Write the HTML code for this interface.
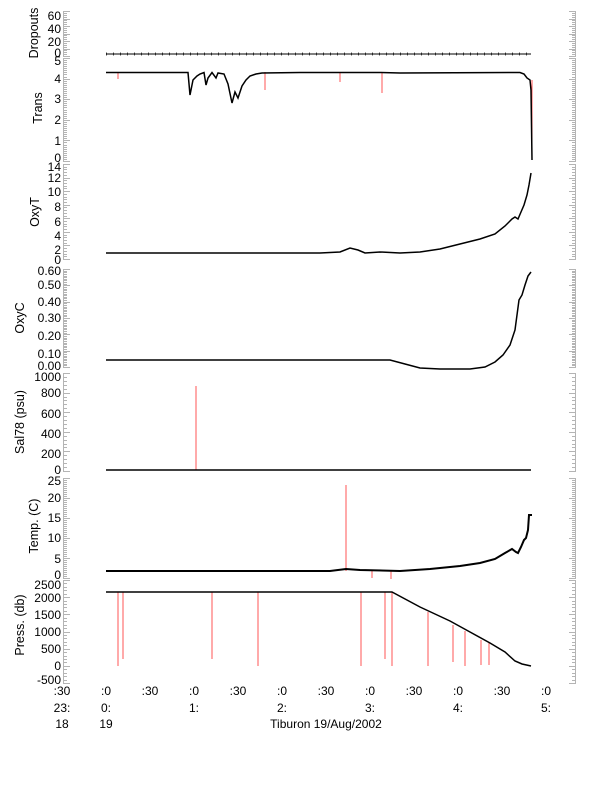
<!DOCTYPE html>
<html><head><meta charset="utf-8"><style>
body{margin:0;background:#fff;}
svg{display:block;font-family:"Liberation Sans",sans-serif;}
.l{font-size:12px;fill:#000;text-anchor:end;}
.y{font-size:12.5px;fill:#000;text-anchor:middle;}
.t{font-size:12px;fill:#000;text-anchor:middle;}
</style></head><body>
<svg id="s" width="612" height="785" viewBox="0 0 612 785">
<rect width="612" height="785" fill="#fff"/>
<g id="ax" stroke="#b4b4b4" stroke-width="1" fill="none"></g>
<g class="l">
<text x="61" y="20">60</text><text x="61" y="33">40</text><text x="61" y="46">20</text><text x="61" y="57">0</text>
<text x="61" y="65">5</text><text x="61" y="83">4</text><text x="61" y="103">3</text><text x="61" y="124">2</text><text x="61" y="145">1</text><text x="61" y="162">0</text>
<text x="61" y="171">14</text><text x="61" y="182">12</text><text x="61" y="196">10</text><text x="61" y="211">8</text><text x="61" y="226">6</text><text x="61" y="240">4</text><text x="61" y="254">2</text><text x="61" y="264">0</text>
<text x="61" y="275">0.60</text><text x="61" y="289">0.50</text><text x="61" y="306">0.40</text><text x="61" y="322">0.30</text><text x="61" y="340">0.20</text><text x="61" y="358">0.10</text><text x="61" y="370">0.00</text>
<text x="61" y="381">1000</text><text x="61" y="397">800</text><text x="61" y="418">600</text><text x="61" y="438">400</text><text x="61" y="458">200</text><text x="61" y="474">0</text>
<text x="61" y="485">25</text><text x="61" y="502">20</text><text x="61" y="522">15</text><text x="61" y="542">10</text><text x="61" y="563">5</text><text x="61" y="579">0</text>
<text x="61" y="589">2500</text><text x="61" y="602">2000</text><text x="61" y="619">1500</text><text x="61" y="636">1000</text><text x="61" y="653">500</text><text x="61" y="670">0</text><text x="61" y="684">-500</text>
</g>
<g class="y">
<text transform="translate(38,33) rotate(-90)">Dropouts</text>
<text transform="translate(42,108) rotate(-90)">Trans</text>
<text transform="translate(39,212) rotate(-90)">OxyT</text>
<text transform="translate(24,318) rotate(-90)">OxyC</text>
<text transform="translate(24,422) rotate(-90)">Sal78 (psu)</text>
<text transform="translate(38,526) rotate(-90)">Temp. (C)</text>
<text transform="translate(24,625) rotate(-90)">Press. (db)</text>
</g>
<g class="t">
<text x="62" y="695">:30</text><text x="106" y="695">:0</text><text x="150" y="695">:30</text><text x="194" y="695">:0</text><text x="238" y="695">:30</text><text x="282" y="695">:0</text><text x="326" y="695">:30</text><text x="370" y="695">:0</text><text x="414" y="695">:30</text><text x="458" y="695">:0</text><text x="502" y="695">:30</text><text x="546" y="695">:0</text>
<text x="62" y="712">23:</text><text x="106" y="712">0:</text><text x="194" y="712">1:</text><text x="282" y="712">2:</text><text x="370" y="712">3:</text><text x="458" y="712">4:</text><text x="546" y="712">5:</text>
<text x="62" y="728">18</text><text x="106" y="728">19</text><text x="326" y="728">Tiburon 19/Aug/2002</text>
</g>
<g fill="none" stroke-width="1">
<g stroke="#f55">
<line x1="196" y1="386" x2="196" y2="470"/>
<line x1="346" y1="485" x2="346" y2="571"/>
<line x1="372" y1="571" x2="372" y2="578"/><line x1="391" y1="571" x2="391" y2="579"/>
<line x1="532" y1="80" x2="532" y2="160"/>
<line x1="118" y1="592" x2="118" y2="666"/><line x1="123" y1="592" x2="123" y2="659"/>
<line x1="212" y1="592" x2="212" y2="659"/><line x1="258" y1="592" x2="258" y2="666"/>
<line x1="361" y1="592" x2="361" y2="666"/><line x1="385" y1="592" x2="385" y2="659"/>
<line x1="392" y1="592" x2="392" y2="666"/><line x1="428" y1="612" x2="428" y2="666"/>
<line x1="453" y1="625" x2="453" y2="662"/><line x1="465" y1="631" x2="465" y2="666"/>
<line x1="481" y1="640" x2="481" y2="665"/><line x1="489" y1="643" x2="489" y2="665"/>
<line x1="118" y1="72" x2="118" y2="79"/><line x1="265" y1="72" x2="265" y2="90"/><line x1="382" y1="72" x2="382" y2="93"/><line x1="340" y1="72" x2="340" y2="82"/>
</g>
<g stroke="#000">
<line x1="106" y1="54" x2="531" y2="54" stroke-dasharray="1 6" stroke-width="3" opacity=".7"/>
<line x1="106" y1="54" x2="531" y2="54"/>
<polyline points="106,72.5 188,72.5 190,95 193,80 197,76 200,74 204,72.5 206,85 208,78 212,72.5 216,78 218,73 224,74 228,84 232,103 235,92 238,98 242,86 246,80 250,76 256,74 262,73 300,72.5 380,72.5 400,73 520,72.5 524,74 527,78 530,80 531,90 532,160" stroke-width="1.5"/>
<polyline points="106,253 320,253 340,252 350,248 358,250 365,253 380,252 400,253 420,252 440,249 460,244 480,239 495,234 505,226 512,219 515,217 518,219 521,212 524,205 527,195 529,185 531,173" stroke-width="1.5"/>
<polyline points="106,360 390,360 405,364 420,368 440,369 470,369 485,367 495,362 503,355 510,345 515,330 519,300 522,295 525,285 528,276 531,272" stroke-width="1.5"/>
<line x1="106" y1="470" x2="531" y2="470" stroke-width="1.5"/>
<polyline points="106,571 330,571 346,569 360,570 400,571 430,569 460,566 480,563 495,559 505,553 512,549 516,552 518,553 521,547 524,540 526,538 528,530 529,515 532,515" stroke-width="2"/>
<polyline points="106,592 392,592 420,607 450,621 470,632 490,643 505,652 515,661 522,664 531,666" stroke-width="1.5"/>
</g>
</g>
</svg>
<script>
var g=document.getElementById('ax'),ns='http://www.w3.org/2000/svg';
function ln(a,b,c,d){var l=document.createElementNS(ns,'line');l.setAttribute('x1',a);l.setAttribute('y1',b);l.setAttribute('x2',c);l.setAttribute('y2',d);g.appendChild(l);}
var P=[[11,56,6,4],[58,161,5,10],[164,259,7,5],[269,367,6,10],[373,471,5,5],[478,578,5,10],[580,683,6,5]];
P.forEach(function(p){
 ln(63.5,p[0],63.5,p[1]);ln(575.5,p[0],575.5,p[1]);
 var n=p[2]*p[3];
 for(var i=0;i<=n;i++){var y=Math.round(p[1]-(p[1]-p[0])*i/n)+0.5;var L=(i%p[3]==0)?7:4;
  ln(63,y,63+L,y);ln(576,y,576-L,y);}
});
</script>
</body></html>
